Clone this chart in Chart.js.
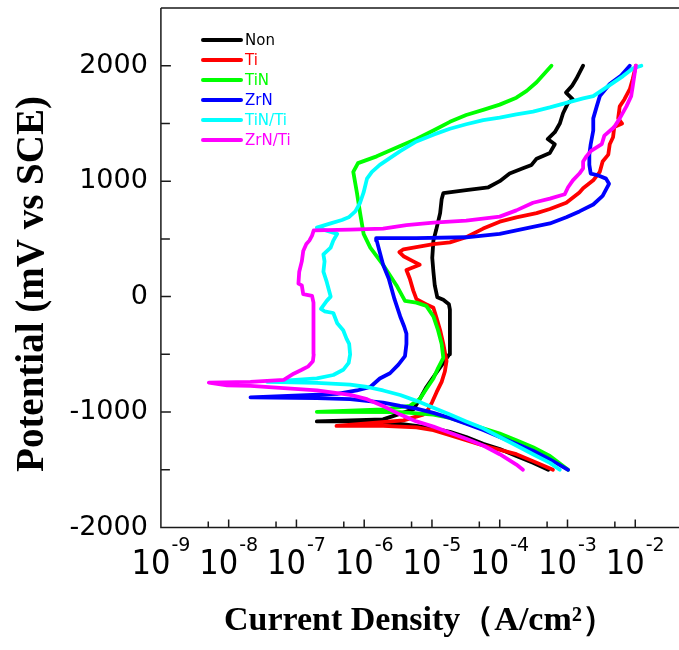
<!DOCTYPE html>
<html><head><meta charset="utf-8">
<script src="https://cdn.jsdelivr.net/npm/chart.js@4.4.0/dist/chart.umd.min.js"></script>
<style>html,body{margin:0;padding:0;background:#fff;overflow:hidden}#wrap{width:679px;height:650px}</style>
</head><body><div id="wrap"><canvas id="c" width="679" height="650"></canvas></div>
<script>
// ---- data: [current density (A/cm²), potential (mV vs SCE)] ----
const seriesNames = ['Non', 'Ti', 'TiN', 'ZrN', 'TiN/Ti', 'ZrN/Ti'];
const seriesColors = ['#000000', '#ff0000', '#00ff00', '#0000ff', '#00ffff', '#ff00ff'];
const legendTextColors = ['#000000', '#ff0000', '#00ff00', '#0000ff', '#00ffff', '#ff00ff'];
const potentialTicks = [-2000, -1000, 0, 1000, 2000];
const potentialMinorTicks = [-1500, -500, 500, 1500];
const currentTicks = [1e-9, 1e-8, 1e-7, 1e-6, 1e-5, 1e-4, 1e-3, 1e-2];
const currentTickBase = ['10', '10', '10', '10', '10', '10', '10', '10'];
const currentTickExp = ['-9', '-8', '-7', '-6', '-5', '-4', '-3', '-2'];
const currentMinorTicks = [5e-9, 5e-8, 5e-7, 5e-6, 5e-5, 5e-4, 5e-3];
const xTitle = 'Current Density（A/cm²）';
const yTitle = 'Potential (mV vs SCE)';

const nonCurve = [[5.2e-4,-1500],[3.1e-4,-1440],[1.76e-4,-1380],[1.0e-4,-1320],[5.7e-5,-1275],[3.2e-5,-1216],[1.84e-5,-1171],[1.04e-5,-1141],[5.9e-6,-1120],[3.4e-6,-1102],[1.9e-6,-1090],[6.2e-7,-1081],[2.0e-7,-1081],[1.9e-6,-1063],[5.3e-6,-977],[6.6e-6,-888],[8.3e-6,-783],[1.1e-5,-679],[1.47e-5,-574],[1.8e-5,-500],[1.84e-5,-261],[1.84e-5,-112],[1.78e-5,-67],[1.47e-5,-28],[1.2e-5,-6],[1.1e-5,97],[1.05e-5,216],[1.01e-5,335],[1.05e-5,485],[1.15e-5,574],[1.32e-5,723],[1.39e-5,843],[1.47e-5,896],[3.2e-5,923],[6.8e-5,947],[1.0e-4,1000],[1.4e-4,1066],[2.2e-4,1111],[2.95e-4,1141],[3.5e-4,1195],[5.5e-4,1245],[6.5e-4,1320],[5.1e-4,1365],[6.5e-4,1424],[7.7e-4,1499],[8.6e-4,1588],[1.02e-3,1678],[1.2e-3,1708],[9.5e-4,1767],[1.17e-3,1827],[1.35e-3,1887],[1.7e-3,2000]];
const tiCurve = [[6.1e-4,-1500],[3.1e-4,-1425],[1.76e-4,-1365],[5.7e-5,-1290],[1.84e-5,-1201],[1.05e-5,-1156],[5.9e-6,-1132],[1.9e-6,-1120],[3.9e-7,-1120],[3.8e-6,-1072],[7.4e-6,-1022],[8.8e-6,-977],[1.0e-5,-918],[1.17e-5,-828],[1.39e-5,-738],[1.55e-5,-649],[1.64e-5,-559],[1.47e-5,-410],[1.32e-5,-291],[1.17e-5,-186],[1.05e-5,-97],[8.3e-6,-67],[5.9e-6,-22],[5.3e-6,52],[4.7e-6,157],[4.2e-6,231],[6.6e-6,276],[5.3e-6,305],[3.8e-6,350],[3.3e-6,386],[3.8e-6,410],[1.05e-5,455],[1.84e-5,470],[3.2e-5,514],[5.7e-5,589],[1.0e-4,649],[1.76e-4,687],[3.5e-4,723],[5.5e-4,759],[9.6e-4,813],[1.5e-3,902],[1.7e-3,938],[2.4e-3,1007],[3.0e-3,1081],[3.3e-3,1171],[4.0e-3,1230],[4.2e-3,1320],[4.7e-3,1380],[4.9e-3,1469],[6.4e-3,1499],[5.6e-3,1544],[5.9e-3,1648],[6.9e-3,1708],[8.3e-3,1797],[9.2e-3,1887],[1.02e-2,2000]];
const tinCurve = [[1.02e-3,-1500],[5.5e-4,-1380],[3.1e-4,-1305],[1.76e-4,-1245],[1.0e-4,-1186],[5.7e-5,-1141],[3.2e-5,-1096],[1.84e-5,-1051],[1.05e-5,-1022],[3.4e-6,-1001],[2.0e-7,-998],[1.9e-6,-977],[4.7e-6,-947],[6.6e-6,-888],[8.3e-6,-798],[1.05e-5,-709],[1.23e-5,-619],[1.47e-5,-530],[1.39e-5,-410],[1.23e-5,-291],[1.05e-5,-172],[8.3e-6,-82],[5.9e-6,-52],[4.0e-6,-37],[3.0e-6,97],[1.9e-6,276],[1.23e-6,425],[9.8e-7,544],[8.7e-7,723],[7.8e-7,902],[6.9e-7,1081],[8.1e-7,1156],[1.53e-6,1215],[3.4e-6,1305],[5.9e-6,1365],[1.05e-5,1439],[1.84e-5,1514],[3.2e-5,1573],[5.7e-5,1618],[1.0e-4,1663],[1.76e-4,1723],[2.5e-4,1782],[3.5e-4,1857],[5.8e-4,2000]];
const zrnCurve = [[1.02e-3,-1500],[5.5e-4,-1410],[3.1e-4,-1335],[1.76e-4,-1275],[1.0e-4,-1216],[5.7e-5,-1156],[3.2e-5,-1102],[1.84e-5,-1051],[1.05e-5,-1007],[5.9e-6,-971],[3.4e-6,-947],[1.9e-6,-918],[6.2e-7,-888],[2.0e-7,-879],[2.1e-8,-873],[4.0e-7,-843],[7.8e-7,-813],[1.23e-6,-783],[1.7e-6,-709],[2.4e-6,-664],[3.2e-6,-589],[4.0e-6,-515],[4.2e-6,-410],[4.2e-6,-321],[3.9e-6,-261],[3.4e-6,-172],[2.8e-6,-22],[2.3e-6,157],[1.9e-6,276],[1.53e-6,485],[1.5e-6,506],[5.9e-6,506],[3.2e-5,514],[1.0e-4,544],[3.1e-4,604],[5.5e-4,634],[9.6e-4,687],[1.5e-3,738],[2.4e-3,798],[3.3e-3,872],[4.1e-3,977],[3.7e-3,1022],[2.8e-3,1051],[2.2e-3,1066],[2.1e-3,1141],[2.1e-3,1230],[2.2e-3,1320],[2.4e-3,1439],[2.4e-3,1544],[2.7e-3,1648],[3.0e-3,1737],[4.2e-3,1842],[6.2e-3,1916],[8.3e-3,2000]];
const tinTiCurve = [[7.7e-4,-1500],[5.5e-4,-1440],[3.1e-4,-1365],[1.76e-4,-1290],[1.0e-4,-1216],[5.7e-5,-1141],[3.2e-5,-1081],[1.84e-5,-1022],[1.05e-5,-962],[5.9e-6,-903],[3.4e-6,-852],[1.9e-6,-813],[1.1e-6,-783],[6.2e-7,-762],[2.0e-7,-747],[3.7e-8,-738],[2.0e-7,-709],[3.5e-7,-679],[4.9e-7,-634],[5.9e-7,-574],[6.2e-7,-500],[6.0e-7,-410],[5.5e-7,-366],[4.9e-7,-291],[4.0e-7,-231],[3.5e-7,-142],[2.6e-7,-127],[2.3e-7,-106],[2.8e-7,-37],[3.2e-7,0],[2.8e-7,127],[2.5e-7,216],[2.6e-7,305],[2.5e-7,365],[3.2e-7,425],[3.5e-7,485],[4.0e-7,544],[2.5e-7,580],[2.0e-7,598],[3.2e-7,634],[4.7e-7,664],[5.9e-7,687],[7.4e-7,738],[8.7e-7,813],[9.8e-7,902],[1.1e-6,1022],[1.3e-6,1081],[1.7e-6,1141],[3.4e-6,1260],[5.9e-6,1344],[1.05e-5,1403],[1.84e-5,1454],[3.2e-5,1493],[5.7e-5,1529],[1.0e-4,1550],[1.76e-4,1579],[3.1e-4,1603],[5.5e-4,1639],[9.6e-4,1678],[1.7e-3,1717],[2.4e-3,1737],[3.3e-3,1791],[4.7e-3,1851],[6.6e-3,1910],[9.2e-3,1976],[1.23e-2,2000]];
const zrnTiCurve = [[2.2e-4,-1500],[1.76e-4,-1455],[1.0e-4,-1365],[5.7e-5,-1290],[3.2e-5,-1231],[1.84e-5,-1180],[1.05e-5,-1126],[5.9e-6,-1081],[3.4e-6,-1022],[1.9e-6,-947],[1.1e-6,-888],[6.2e-7,-852],[2.0e-7,-813],[6.5e-8,-792],[2.1e-8,-774],[9.5e-9,-768],[5.1e-9,-745],[2.1e-8,-738],[6.5e-8,-722],[9.1e-8,-668],[1.2e-7,-634],[1.5e-7,-604],[1.75e-7,-559],[1.8e-7,-500],[1.8e-7,-410],[1.78e-7,-291],[1.78e-7,-172],[1.78e-7,-52],[1.7e-7,7],[1.26e-7,22],[1.2e-7,97],[1.07e-7,112],[1.1e-7,216],[1.2e-7,305],[1.26e-7,395],[1.4e-7,455],[1.55e-7,485],[1.7e-7,529],[1.8e-7,574],[6.2e-7,580],[1.9e-6,589],[4.2e-6,619],[1.05e-5,640],[3.2e-5,658],[1.0e-4,693],[1.76e-4,747],[3.1e-4,813],[5.5e-4,849],[9.1e-4,887],[1.02e-3,947],[1.2e-3,1007],[1.5e-3,1066],[1.7e-3,1111],[1.7e-3,1171],[1.9e-3,1215],[2.2e-3,1260],[3.2e-3,1320],[3.5e-3,1394],[4.9e-3,1469],[5.9e-3,1544],[7.4e-3,1648],[8.7e-3,1737],[9.2e-3,1827],[1.02e-2,2000]];
const seriesCurves = [nonCurve, tiCurve, tinCurve, zrnCurve, tinTiCurve, zrnTiCurve];

const decor = {
  id: 'decor',
  afterDraw(chart) {
    const {ctx, chartArea: a, scales: {x, y}} = chart;
    ctx.save();
    ctx.strokeStyle = '#1a1a1a';
    ctx.lineWidth = 1.5;
    ctx.beginPath();
    ctx.moveTo(a.left, a.top); ctx.lineTo(a.right, a.top);
    ctx.moveTo(a.left, a.top); ctx.lineTo(a.left, a.bottom); ctx.lineTo(a.right, a.bottom);
    potentialTicks.forEach(v => { const p = y.getPixelForValue(v); ctx.moveTo(a.left, p); ctx.lineTo(a.left + 10, p); });
    potentialMinorTicks.forEach(v => { const p = y.getPixelForValue(v); ctx.moveTo(a.left, p); ctx.lineTo(a.left + 9, p); });
    currentTicks.forEach(v => { const p = x.getPixelForValue(v); ctx.moveTo(p, a.bottom); ctx.lineTo(p, a.bottom - 8); });
    currentMinorTicks.forEach(v => { const p = x.getPixelForValue(v); ctx.moveTo(p, a.bottom); ctx.lineTo(p, a.bottom - 6); });
    ctx.stroke();

    // x tick labels: 10 with superscript exponent
    ctx.fillStyle = '#000';
    ctx.textBaseline = 'alphabetic';
    ctx.textAlign = 'left';
    const baseFont = '34px "DejaVu Sans Condensed", "DejaVu Sans"', expFont = '19px "DejaVu Sans"';
    currentTicks.forEach((v, i) => {
      const p = x.getPixelForValue(v);
      ctx.font = baseFont; const wb = ctx.measureText(currentTickBase[i]).width;
      ctx.font = expFont; const we = ctx.measureText(currentTickExp[i]).width;
      const x0 = p - (wb + we + 1) / 2;
      ctx.font = baseFont; ctx.fillText(currentTickBase[i], x0, a.bottom + 46);
      ctx.font = expFont; ctx.fillText(currentTickExp[i], x0 + wb + 1, a.bottom + 23);
    });

    // legend
    ctx.font = '15px "DejaVu Sans"';
    ctx.textAlign = 'left';
    ctx.textBaseline = 'middle';
    ctx.lineCap = 'round';
    seriesNames.forEach((n, i) => {
      const ly = 40 + i * 20;
      ctx.strokeStyle = seriesColors[i];
      ctx.lineWidth = 4;
      ctx.beginPath(); ctx.moveTo(203, ly); ctx.lineTo(241, ly); ctx.stroke();
      ctx.fillStyle = legendTextColors[i];
      ctx.fillText(n, 245, ly + 1);
    });

    // y title
    ctx.translate(33, 284);
    ctx.rotate(-Math.PI / 2);
    ctx.font = 'bold 39px "Liberation Serif"';
    ctx.textAlign = 'center';
    ctx.textBaseline = 'middle';
    ctx.fillStyle = '#000';
    ctx.fillText(yTitle, 0, 0);
    ctx.restore();
  }
};

new Chart(document.getElementById('c'), {
  type: 'scatter',
  data: {
    datasets: seriesNames.map((name, i) => ({
      label: name,
      data: seriesCurves[i].map(p => ({x: p[0], y: p[1]})),
      showLine: true,
      borderColor: seriesColors[i],
      backgroundColor: seriesColors[i],
      borderWidth: 3.8,
      pointRadius: 0,
      tension: 0,
      fill: false,
      order: seriesNames.length - i
    }))
  },
  options: {
    responsive: false,
    animation: false,
    devicePixelRatio: 1,
    layout: {padding: {left: 0, right: 0, top: 8, bottom: 0}},
    plugins: {legend: {display: false}, tooltip: {enabled: false}},
    elements: {line: {borderJoinStyle: 'round', borderCapStyle: 'round'}},
    scales: {
      x: {
        type: 'logarithmic', min: 1e-9, max: 0.0442, bounds: 'data',
        grid: {display: false, drawTicks: false}, border: {display: false},
        afterBuildTicks: s => { s.ticks = currentTicks.map(v => ({value: v})); },
        afterFit: s => { s.height = 122.5; s.paddingLeft = 0; s.paddingRight = 0; },
        ticks: {display: false, autoSkip: false, maxRotation: 0, minRotation: 0},
        title: {display: true, text: xTitle, color: '#000',
          font: {family: '"Liberation Serif"', size: 34, weight: 'bold'}, padding: {top: 0, bottom: 8}}
      },
      y: {
        type: 'linear', min: -2000, max: 2500, bounds: 'data',
        grid: {display: false, drawTicks: false}, border: {display: false},
        afterBuildTicks: s => { s.ticks = potentialTicks.map(v => ({value: v})); },
        afterFit: s => { s.width = 160.9; s.paddingTop = 0; s.paddingBottom = 0; },
        ticks: {padding: 13, color: '#000', font: {family: '"DejaVu Sans"', size: 27}, callback: v => String(v)}
      }
    }
  },
  plugins: [decor]
});
</script></body></html>
